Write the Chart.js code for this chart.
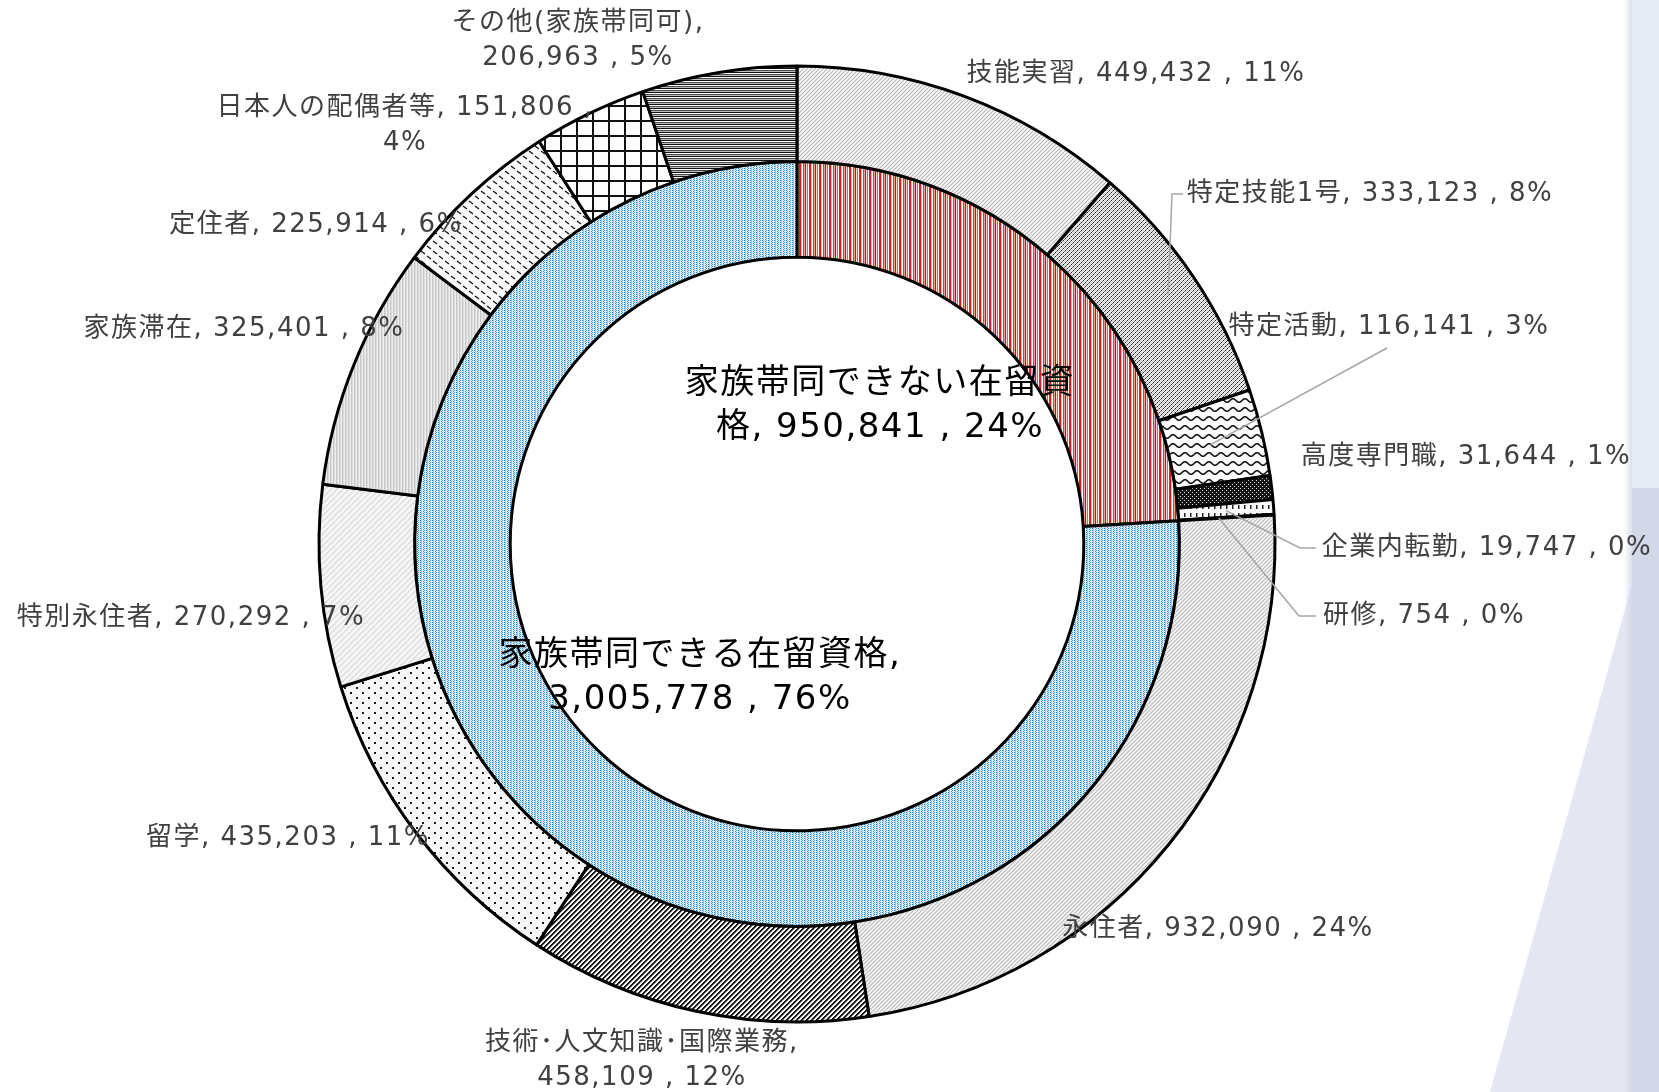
<!DOCTYPE html>
<html lang="ja">
<head>
<meta charset="utf-8">
<script src="https://cdn.jsdelivr.net/npm/chart.js@4.4.1/dist/chart.umd.min.js"></script>
<style>
  html, body { margin: 0; padding: 0; background: #fff; }
  #wrap { width: 1659px; height: 1092px; }
</style>
</head>
<body>
<div id="wrap"><canvas id="residenceChart" width="1659" height="1092"></canvas></div>
<script>
// outer ring: residence statuses
const outerLabels = [
  '技能実習', '特定技能1号', '特定活動', '高度専門職', '企業内転勤', '研修',
  '永住者', '技術･人文知識･国際業務', '留学', '特別永住者', '家族滞在', '定住者',
  '日本人の配偶者等', 'その他(家族帯同可)'
];
const outerValues = [
  449432, 333123, 116141, 31644, 19747, 754,
  932090, 458109, 435203, 270292, 325401, 225914,
  151806, 206963
];

// inner ring: can / cannot bring family
const innerLabels = ['家族帯同できない在留資格', '家族帯同できる在留資格'];
const innerValues = [950841, 3005778];

// label layout (center of first line), line break position, leader lines
const outerLabelPos = [
  [1136, 74], [1370, 194], [1389, 327], [1466, 457], [1487, 548], [1424, 616],
  [1218, 929], [642, 1043], [288, 838], [191, 618], [244, 329], [316, 225],
  [405, 108], [578, 23]
];
const outerBreak = [0, 0, 0, 0, 0, 0, 0, 13, 0, 0, 0, 0, 19, 11];
const innerLabelPos = [[880, 384], [700, 656]];
const innerBreak = [11, 12];
const leaders = [
  { index: 1, pts: [[1183, 194], [1172, 194]], f: 0.68 },
  { index: 2, pts: [[1387, 348]], f: 0.45 },
  { index: 4, pts: [[1316, 548], [1300, 548]], f: 0.5 },
  { index: 5, pts: [[1316, 616], [1299, 616]], f: 0.42 }
];

// ---- fill patterns (Excel style pattern fills) ----
function makePattern(w, h, paint) {
  const c = document.createElement('canvas');
  c.width = w; c.height = h;
  const g = c.getContext('2d');
  paint(g, w, h);
  return g.createPattern(c, 'repeat');
}
function px(g, x, y, col, s) {
  g.fillStyle = col;
  g.fillRect(x, y, s || 1, s || 1);
}
function base(g, w, h, col) {
  g.fillStyle = col;
  g.fillRect(0, 0, w, h);
}

const pLightDiag = makePattern(4, 4, (g, w, h) => {
  base(g, w, h, '#e9e9e9');
  for (let y = 0; y < 4; y++) for (let x = 0; x < 4; x++) {
    if ((x + y) % 4 === 3) px(g, x, y, '#b8b8b8');
    if ((x + y) % 4 === 1) px(g, x, y, '#f8f8f8');
  }
});
const pDotDiag = makePattern(4, 4, (g, w, h) => {
  base(g, w, h, '#f2f2f2');
  for (let y = 0; y < 4; y++) for (let x = 0; x < 4; x++) {
    if ((x + y) % 4 === 3) px(g, x, y, x % 2 ? '#1e1e1e' : '#6e6e6e');
    if ((x + y) % 4 === 1) px(g, x, y, '#d0d0d0');
  }
});
const pWave = makePattern(12, 9, (g, w, h) => {
  base(g, w, h, '#fdfdfd');
  g.strokeStyle = '#151515';
  g.lineWidth = 1.6;
  g.beginPath();
  for (let x = -1; x <= 13; x += 0.5) {
    const y = 4.5 + 1.8 * Math.sin(x / 12 * Math.PI * 2);
    if (x === -1) g.moveTo(x, y); else g.lineTo(x, y);
  }
  g.stroke();
});
const pDarkDots = makePattern(4, 4, (g, w, h) => {
  base(g, w, h, '#141414');
  px(g, 0, 0, '#dcdcdc');
  px(g, 2, 2, '#dcdcdc');
});
const pVDash = makePattern(6, 8, (g, w, h) => {
  base(g, w, h, '#fafafa');
  g.fillStyle = '#222';
  g.fillRect(2, 1, 1.5, 4);
});
const pTiny = makePattern(4, 4, (g, w, h) => {
  base(g, w, h, '#fff');
  px(g, 1, 1, '#555');
});
const pLightDiag2 = makePattern(4, 4, (g, w, h) => {
  base(g, w, h, '#e5e5e5');
  for (let y = 0; y < 4; y++) for (let x = 0; x < 4; x++) {
    if ((x + y) % 4 === 3) px(g, x, y, '#bdbdbd');
    if ((x + y) % 4 === 1) px(g, x, y, '#f6f6f6');
  }
});
const pStripe = makePattern(5, 5, (g, w, h) => {
  base(g, w, h, '#ffffff');
  for (let y = 0; y < 5; y++) for (let x = 0; x < 5; x++) {
    const k = (x + y) % 5;
    if (k === 0 || k === 1) px(g, x, y, '#161616');
    if (k === 2) px(g, x, y, '#8a8a8a');
  }
});
const pSparseDots = makePattern(12, 10, (g, w, h) => {
  base(g, w, h, '#f7f7f7');
  px(g, 2, 2, '#1a1a1a', 2);
  px(g, 8, 7, '#1a1a1a', 2);
});
const pFaint = makePattern(6, 6, (g, w, h) => {
  base(g, w, h, '#ebebeb');
  for (let y = 0; y < 6; y++) for (let x = 0; x < 6; x++) {
    const k = (x + y) % 6;
    if (k === 0 || k === 1) px(g, x, y, '#fbfbfb');
    if (k === 3) px(g, x, y, '#dddddd');
  }
});
const pVert = makePattern(3, 4, (g, w, h) => {
  base(g, w, h, '#dddddd');
  for (let y = 0; y < 4; y++) {
    px(g, 0, y, y % 2 ? '#bebebe' : '#cfcfcf');
    px(g, 2, y, '#eeeeee');
  }
});
const pBackDash = makePattern(12, 10, (g, w, h) => {
  base(g, w, h, '#fbfbfb');
  g.strokeStyle = '#1a1a1a';
  g.lineWidth = 1.4;
  g.beginPath();
  g.moveTo(1, 1); g.lineTo(5, 4);
  g.moveTo(7, 6); g.lineTo(11, 9);
  g.stroke();
});
const pGrid = makePattern(16, 15, (g, w, h) => {
  base(g, w, h, '#fdfdfd');
  g.fillStyle = '#111';
  g.fillRect(0, 0, 16, 2);
  g.fillRect(0, 0, 2, 15);
});
const pHoriz = makePattern(1, 4, (g) => {
  px(g, 0, 0, '#111111');
  px(g, 0, 1, '#ffffff');
  px(g, 0, 2, '#4a4a4a');
  px(g, 0, 3, '#bbbbbb');
});
const pRed = makePattern(10, 1, (g) => {
  ['#d01c1c', '#f6b3b3', '#ffffff', '#e23b3b', '#f3a0a0',
   '#c81414', '#fbd5d5', '#e95a5a', '#ffffff', '#d92626'].forEach((c, i) => px(g, i, 0, c));
});
const pBlue = makePattern(6, 4, (g, w, h) => {
  base(g, w, h, '#dceffa');
  for (let y = 0; y < 4; y++) {
    if (y % 2 === 0) px(g, 0, y, '#1f7fc8');
    px(g, 1, y, '#8fcaee');
    if (y % 2 === 1) px(g, 3, y, '#7a7a7a');
    if (y % 2 === 0) px(g, 4, y, '#3d9ee0');
  }
});

const outerFills = [
  pLightDiag, pDotDiag, pWave, pDarkDots, pVDash, pTiny,
  pLightDiag2, pStripe, pSparseDots, pFaint, pVert, pBackDash,
  pGrid, pHoriz
];
const innerFills = [pRed, pBlue];

// ---- helpers ----
const fmt = v => v.toLocaleString('en-US');
function labelText(name, v, total) {
  return name + ', ' + fmt(v) + ' , ' + Math.round(v / total * 100) + '%';
}
function splitText(t, n) {
  return n ? [t.slice(0, n), t.slice(n).trim()] : [t];
}
function anchorOf(arc, f) {
  const a = (arc.startAngle + arc.endAngle) / 2;
  const r = arc.innerRadius + f * (arc.outerRadius - arc.innerRadius);
  return [arc.x + Math.cos(a) * r, arc.y + Math.sin(a) * r];
}

const decor = {
  id: 'decor',
  beforeDraw(chart) {
    const ctx = chart.ctx;
    ctx.save();
    ctx.fillStyle = '#ffffff';
    ctx.fillRect(0, 0, chart.width, chart.height);
    // slide background on the right
    ctx.fillStyle = '#e4e7f2';
    ctx.beginPath();
    ctx.moveTo(1659, 488); ctx.lineTo(1490, 1092); ctx.lineTo(1659, 1092);
    ctx.closePath();
    ctx.fill();
    const sh = ctx.createLinearGradient(1624, 0, 1632, 0);
    sh.addColorStop(0, 'rgba(205,210,225,0)');
    sh.addColorStop(1, 'rgba(205,210,225,0.7)');
    ctx.fillStyle = sh;
    ctx.fillRect(1624, 0, 8, 1092);
    ctx.fillStyle = '#e6ebf5';
    ctx.fillRect(1632, 0, 27, 488);
    ctx.fillStyle = '#d3d8e8';
    ctx.fillRect(1632, 488, 27, 604);
    ctx.restore();
  },
  afterDraw(chart) {
    const ctx = chart.ctx;
    const outerArcs = chart.getDatasetMeta(0).data;
    const outerTotal = outerValues.reduce((a, b) => a + b, 0);
    const innerTotal = innerValues.reduce((a, b) => a + b, 0);
    ctx.save();

    // leader lines
    ctx.strokeStyle = '#a6a6a6';
    ctx.lineWidth = 1.5;
    leaders.forEach(l => {
      const end = anchorOf(outerArcs[l.index], l.f);
      ctx.beginPath();
      ctx.moveTo(l.pts[0][0], l.pts[0][1]);
      l.pts.slice(1).forEach(p => ctx.lineTo(p[0], p[1]));
      ctx.lineTo(end[0], end[1]);
      ctx.stroke();
    });

    ctx.textAlign = 'center';
    ctx.textBaseline = 'middle';
    ctx.letterSpacing = '1.5px';
    ctx.font = '26px "DejaVu Sans", "Noto Sans CJK JP"';
    ctx.fillStyle = '#404040';
    outerLabels.forEach((name, i) => {
      const lines = splitText(labelText(name, outerValues[i], outerTotal), outerBreak[i]);
      const [x, y] = outerLabelPos[i];
      lines.forEach((t, k) => ctx.fillText(t, x, y + k * 35));
    });

    ctx.font = '34px "DejaVu Sans", "Noto Sans CJK JP"';
    ctx.letterSpacing = '1.5px';
    ctx.fillStyle = '#000000';
    innerLabels.forEach((name, i) => {
      const lines = splitText(labelText(name, innerValues[i], innerTotal), innerBreak[i]);
      const [x, y] = innerLabelPos[i];
      lines.forEach((t, k) => ctx.fillText(t, x, y + k * 44));
    });
    ctx.restore();
  }
};

new Chart(document.getElementById('residenceChart'), {
  type: 'doughnut',
  data: {
    labels: outerLabels,
    datasets: [
      {
        label: '在留資格',
        data: outerValues,
        backgroundColor: outerFills,
        borderColor: '#000000',
        borderWidth: 3
      },
      {
        label: '家族帯同',
        data: innerValues,
        backgroundColor: innerFills,
        borderColor: '#000000',
        borderWidth: 3
      }
    ]
  },
  options: {
    responsive: false,
    animation: false,
    events: [],
    radius: 478,
    cutout: '60%',
    layout: { padding: { left: 0, right: 65, top: 0, bottom: 4 } },
    plugins: {
      legend: { display: false },
      tooltip: { enabled: false }
    }
  },
  plugins: [decor]
});
</script>
</body>
</html>
